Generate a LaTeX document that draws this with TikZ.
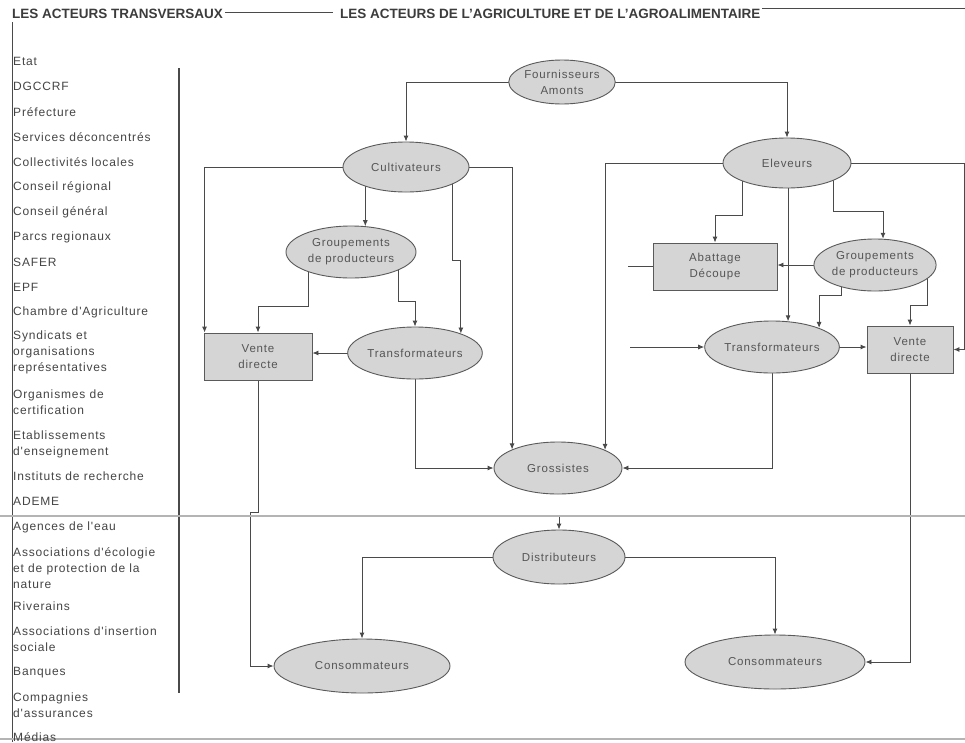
\documentclass[tikz,border=0pt]{standalone}
\usepackage{fontspec}
\setmainfont{Liberation Sans}
\newfontfamily\lsans[LetterSpace=7]{Liberation Sans}
\usetikzlibrary{shapes.geometric,arrows.meta,backgrounds}
\definecolor{linec}{HTML}{4A4A4A}
\definecolor{bordc}{HTML}{5A5A5A}
\definecolor{fillc}{HTML}{D5D5D5}
\definecolor{txtc}{HTML}{555555}
\definecolor{leftc}{HTML}{454545}
\definecolor{headc}{HTML}{3C3C3C}
\definecolor{sepc}{HTML}{B4B4B4}
\begin{document}
\begin{tikzpicture}[x=1pt,y=-1pt,
  ell/.style={ellipse,draw=bordc,line width=0.9pt,fill=fillc,inner sep=0pt,align=center,text=txtc,font=\lsans\fontsize{11.5}{16}\selectfont},
  box/.style={rectangle,draw=bordc,line width=0.9pt,fill=fillc,inner sep=0pt,align=center,text=txtc,font=\lsans\fontsize{11.5}{16}\selectfont},
  arr/.style={draw=linec,line width=0.9pt,-{Latex[length=6pt,width=5pt]}},
  plainline/.style={draw=linec,line width=0.9pt},
  lefttxt/.style={anchor=west,inner sep=0pt,align=left,text=leftc,font=\lsans\fontsize{12}{16}\selectfont},
  head/.style={anchor=west,inner sep=0pt,text=headc,font=\bfseries\fontsize{13.5}{16}\selectfont},
  frame/.style={draw=linec,line width=0.9pt},
  sep/.style={draw=sepc,line width=1.5pt}
]
\useasboundingbox (0,0) rectangle (965,742);

% headers and frame lines
\node[head] (h1) at (12,14) {LES ACTEURS TRANSVERSAUX};
\node[head] (h2) at (340,14) {LES ACTEURS DE L'AGRICULTURE ET DE L'AGROALIMENTAIRE};
\draw[frame] (h1.east) ++(2,-2) -- (333,12);
\draw[frame] (762,8) -- (965,8);
\draw[frame] (12,22) -- (12,742);
\draw[frame,line width=1.3pt] (179,68) -- (179,693);
\draw[sep] (0,516) -- (965,516);
\draw[sep] (0,739) -- (965,739);

% left column
\node[lefttxt] (l1) at (13,61) {Etat};
\node[lefttxt] (l2) at (13,86) {DGCCRF};
\node[lefttxt] (l3) at (13,112) {Préfecture};
\node[lefttxt] (l4) at (13,137) {Services déconcentrés};
\node[lefttxt] (l5) at (13,162) {Collectivités locales};
\node[lefttxt] (l6) at (13,187) {Conseil régional};
\node[lefttxt] (l7) at (13,212) {Conseil général};
\node[lefttxt] (l8) at (13,237) {Parcs regionaux};
\node[lefttxt] (l9) at (13,262) {SAFER};
\node[lefttxt] (l10) at (13,287) {EPF};
\node[lefttxt] (l11) at (13,312) {Chambre d'Agriculture};
\node[lefttxt] (l12) at (13,352) {Syndicats et\\organisations\\représentatives};
\node[lefttxt] (l13) at (13,402) {Organismes de\\certification};
\node[lefttxt] (l14) at (13,444) {Etablissements\\d'enseignement};
\node[lefttxt] (l15) at (13,476) {Instituts de recherche};
\node[lefttxt] (l16) at (13,501) {ADEME};
\node[lefttxt] (l17) at (13,527) {Agences de l'eau};
\node[lefttxt] (l18) at (13,568) {Associations d'écologie\\et de protection de la\\nature};
\node[lefttxt] (l19) at (13,606) {Riverains};
\node[lefttxt] (l20) at (13,639) {Associations d'insertion\\sociale};
\node[lefttxt] (l21) at (13,673) {Banques};
\node[lefttxt] (l22) at (13,705) {Compagnies\\d'assurances};
\node[lefttxt] (l23) at (13,737) {Médias};

% nodes
\node[ell,minimum width=96pt,minimum height=44pt] (F) at (562,82) {Fournisseurs\\Amonts};
\node[ell,minimum width=126pt,minimum height=50pt] (C) at (406,167) {Cultivateurs};
\node[ell,minimum width=128pt,minimum height=50pt] (E) at (787,163) {Eleveurs};
\node[ell,minimum width=130pt,minimum height=52pt] (GL) at (351,252) {Groupements\\de producteurs};
\node[box,minimum width=124pt,minimum height=47pt] (AB) at (715,266.5) {Abattage\\Découpe};
\node[ell,minimum width=120pt,minimum height=52pt] (GR) at (875,265) {Groupements\\de producteurs};
\node[box,minimum width=108pt,minimum height=47pt] (VL) at (258,356.5) {Vente\\directe};
\node[ell,minimum width=130pt,minimum height=52pt] (TL) at (415,353) {Transformateurs};
\node[ell,minimum width=130pt,minimum height=52pt] (TR) at (772,347) {Transformateurs};
\node[box,minimum width=86pt,minimum height=47pt] (VR) at (910,349.5) {Vente\\directe};
\node[ell,minimum width=128pt,minimum height=52pt] (G) at (558,468) {Grossistes};
\node[ell,minimum width=132pt,minimum height=54pt] (D) at (559,557) {Distributeurs};
\node[ell,minimum width=176pt,minimum height=54pt] (CL) at (362,666) {Consommateurs};
\node[ell,minimum width=180pt,minimum height=54pt] (CR) at (775,662) {Consommateurs};

\coordinate (trin) at (630,347);
\coordinate (din) at (559,517);

\begin{pgfonlayer}{background}
\fill[white] (0,0) rectangle (965,742);
% left part
\draw[arr] (F.center) -| (C.north);
\draw[arr] (F.center) -| (E.north);
\draw[arr] (C.center) -| ([xshift=1pt]VL.north west);
\draw[arr] (GL.61 |- C.center) -- (GL.61);
\draw[arr] ([xshift=46pt]C.center) -- ++(0,93) -| (TL.23);
\draw[arr] (C.center) -| (G.158);
\draw[arr] ([xshift=-43pt]GL.center) -- ++(0,54) -| (VL.north);
\draw[arr] ([xshift=47pt]GL.center) -- ++(0,49) -| (TL.north);
\draw[arr] (TL.center) -- (TL.center -| VL.east);
\draw[arr] (TL.center) |- (G.west);
\draw[arr] (VL.center) -- ++(0,155.5) -- ++(-8,0) |- (CL.west);
% right part
\draw[arr] (E.center) -| (G.21);
\draw[arr] (E.center) -| ([xshift=11pt]VR.east) -- (VR.east);
\draw[arr] ([xshift=-45pt]E.center) -- ++(0,52) -| (AB.north);
\draw[arr] (TR.58 |- E.center) -- (TR.58);
\draw[arr] ([xshift=46pt]E.center) -- ++(0,48) -| (GR.73);
\draw[arr] (GR.center) -- (GR.center -| AB.east);
\draw[arr] ([xshift=-34pt]GR.center) -- ++(0,30) -| (TR.22);
\draw[arr] ([xshift=52pt]GR.center) -- ++(0,40) -| (VR.north);
\draw[plainline] (AB.center) -- ([xshift=-25pt]AB.west);
\draw[arr] (trin) -- (TR.west);
\draw[arr] (TR.center) -- (TR.center -| VR.west);
\draw[arr] (TR.center) |- (G.east);
\draw[arr] (VR.center) |- (CR.east);
% distribution
\draw[arr] (D.center) -| (CL.north);
\draw[arr] (D.center) -| (CR.north);
\draw[arr] (din) -- (D.north);
\end{pgfonlayer}
\end{tikzpicture}
\end{document}
